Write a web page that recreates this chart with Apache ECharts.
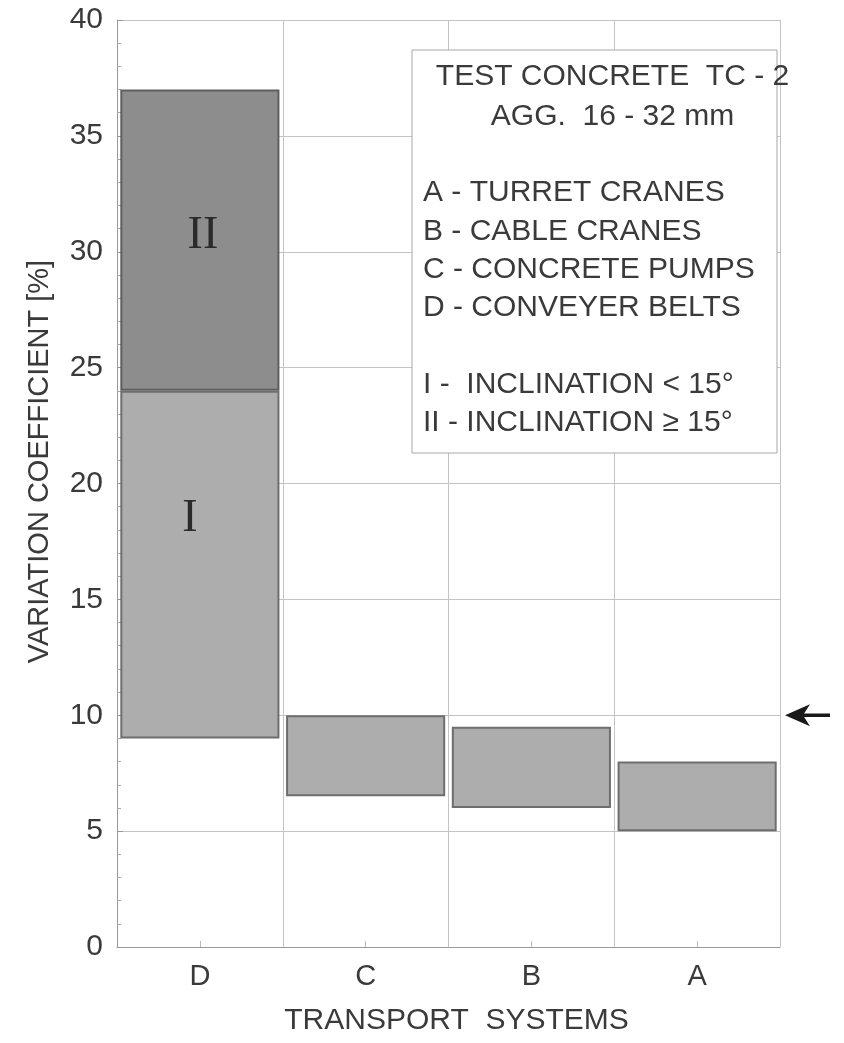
<!DOCTYPE html>
<html>
<head>
<meta charset="utf-8">
<script src="https://cdn.jsdelivr.net/npm/echarts@6/dist/echarts.min.js"></script>
<style>
html,body{margin:0;padding:0;background:#fff;}
#c{width:844px;height:1043px;}
</style>
</head>
<body>
<div id="c"></div>
<script>
// ---- data ----
const categories = ['D', 'C', 'B', 'A'];
const lowValues = [9, 6.5, 6, 5];          // bottom of each bar
const topI = [24, 10, 9.5, 8];             // top of part I (or whole bar)
const topII = [37, null, null, null];      // top of part II (only D)
const yTicks = [0, 5, 10, 15, 20, 25, 30, 35, 40];
const refValue = 10;                       // arrow marker on the right
const legendLines = [
  'TEST CONCRETE  TC - 2',
  'AGG.  16 - 32 mm',
  'A - TURRET CRANES',
  'B - CABLE CRANES',
  'C - CONCRETE PUMPS',
  'D - CONVEYER BELTS',
  'I -  INCLINATION < 15°',
  'II - INCLINATION \u2265 15°'
];

const FONT = '"Liberation Sans", Arial, Helvetica, sans-serif';
const TXT = '#3a3a3a';

const baseData = lowValues;
const partI = topI.map((t, i) => t - lowValues[i]);
const partII = topII.map((t, i) => t == null ? null : t - topI[i]);

const chart = echarts.init(document.getElementById('c'), null, {renderer: 'canvas'});

const option = {
  animation: false,
  backgroundColor: '#fff',
  grid: {left: 117, right: 64, top: 20, bottom: 96, containLabel: false},
  xAxis: {
    type: 'category',
    data: categories,
    boundaryGap: true,
    name: 'TRANSPORT  SYSTEMS',
    nameLocation: 'middle',
    nameGap: 59,
    nameTextStyle: {fontFamily: FONT, fontSize: 30, color: TXT, padding: [0, 0, 0, 16]},
    axisLine: {show: true, lineStyle: {color: '#9a9a9a', width: 1}},
    axisTick: {show: true, inside: true, alignWithLabel: true, length: 6, lineStyle: {color: '#bbb'}},
    axisLabel: {fontFamily: FONT, fontSize: 29, color: TXT, margin: 15},
    splitLine: {show: true, lineStyle: {color: '#c4c4c4', width: 1}}
  },
  yAxis: {
    type: 'value',
    min: 0, max: 40, interval: 5,
    name: 'VARIATION COEFFICIENT [%]',
    nameLocation: 'middle',
    nameGap: 63,
    nameTextStyle: {fontFamily: FONT, fontSize: 29, color: TXT, padding: [0, 0, 0, 44]},
    axisLine: {show: true, lineStyle: {color: '#9a9a9a', width: 1}},
    axisTick: {show: true, inside: true, length: 6, lineStyle: {color: '#999'}},
    minorTick: {show: true, splitNumber: 5, length: 4, lineStyle: {color: '#aaa'}},
    axisLabel: {fontFamily: FONT, fontSize: 30, color: TXT, margin: 14,
      formatter: v => (yTicks.indexOf(v) >= 0 ? String(v) : '')},
    splitLine: {show: true, lineStyle: {color: '#c4c4c4', width: 1}}
  },
  series: [
    {
      name: 'base', type: 'bar', stack: 's', data: baseData,
      barCategoryGap: '4%',
      itemStyle: {color: 'rgba(0,0,0,0)'},
      silent: true, z: 2
    },
    {
      name: 'I', type: 'bar', stack: 's', data: partI,
      barCategoryGap: '4%',
      itemStyle: {color: '#adadad', borderColor: '#6e6e6e', borderWidth: 2},
      label: {
        show: true, position: 'inside', fontFamily: '"Liberation Serif", "DejaVu Serif", serif',
        fontSize: 46, color: '#2a2a2a', offset: [-10, -46],
        formatter: p => (p.dataIndex === 0 ? 'I' : '')
      },
      z: 3
    },
    {
      name: 'II', type: 'bar', stack: 's', data: partII,
      barCategoryGap: '4%',
      itemStyle: {color: '#8d8d8d', borderColor: '#5e5e5e', borderWidth: 2},
      label: {
        show: true, position: 'inside', fontFamily: '"Liberation Serif", "DejaVu Serif", serif',
        fontSize: 46, color: '#2a2a2a', offset: [3, -4],
        formatter: p => 'II'
      },
      z: 3
    }
  ]
};
chart.setOption(option);

// legend box and arrow annotation (arrow height derived from the y axis)
const yRef = chart.convertToPixel({yAxisIndex: 0}, refValue);
const boxLeft = 412, boxTop = 50, boxW = 365, boxH = 403;
const lineY = [77, 117, 193, 232, 270, 308, 385, 423];
const gfx = [
  {type: 'rect', shape: {x: boxLeft, y: boxTop, width: boxW, height: boxH},
   style: {fill: '#fff', stroke: '#a8a8a8', lineWidth: 1}, z: 10}
];
legendLines.forEach((t, i) => {
  const centered = i < 2;
  gfx.push({
    type: 'text', z: 11,
    x: centered ? boxLeft + boxW / 2 + 18 : boxLeft + 11,
    y: lineY[i],
    style: {text: t, fontFamily: FONT, fontSize: 30, fill: TXT,
      align: centered ? 'center' : 'left', verticalAlign: 'middle'}
  });
});
// arrow
gfx.push({type: 'line', z: 11, shape: {x1: 800, y1: yRef, x2: 830, y2: yRef},
  style: {stroke: '#1a1a1a', lineWidth: 3.5}});
gfx.push({type: 'polygon', z: 11,
  shape: {points: [[785, yRef], [810, yRef - 11], [803, yRef], [810, yRef + 11]]},
  style: {fill: '#1a1a1a'}});
chart.setOption({graphic: gfx});
</script>
</body>
</html>
